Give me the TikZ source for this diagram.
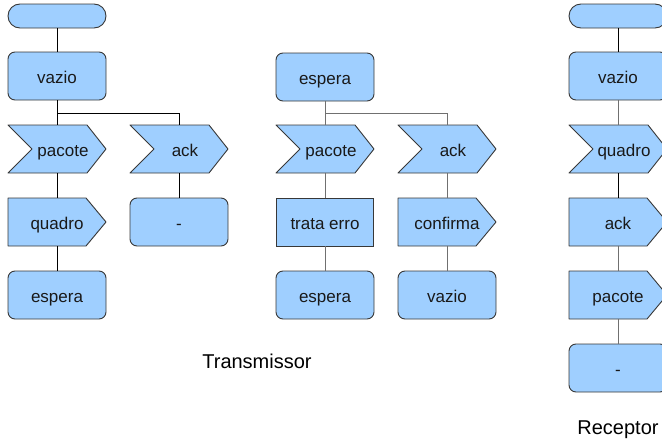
\documentclass[tikz,border=0pt]{standalone}
\usepackage{fontspec}
\setmainfont{Liberation Sans}
\usetikzlibrary{positioning}
\definecolor{boxc}{HTML}{9FCFFF}
\definecolor{edgec}{HTML}{383838}
\definecolor{flowc}{HTML}{707070}
\tikzset{
  base/.style={draw=edgec, fill=boxc, line width=0.9pt, inner sep=0pt,
    font=\fontsize{17}{19}\selectfont, text=black!90, text height=14pt, text depth=0pt},
  startbox/.style={base, rounded corners=12pt, minimum width=98pt, minimum height=24pt},
  state/.style={base, rounded corners=7pt, minimum width=98pt, minimum height=48pt},
  task/.style={base, minimum width=97pt, minimum height=48pt},
  shp/.style={draw=edgec, fill=boxc, line width=0.9pt, line join=round},
  lbl/.style={inner sep=0pt, minimum width=98pt, minimum height=48pt,
    font=\fontsize{17}{19}\selectfont, text=black!90, text height=14pt, text depth=0pt},
  title/.style={font=\fontsize{20}{24}\selectfont},
  link/.style={black, line width=1pt},
  flow/.style={flowc, line width=1pt},
}
% input symbol: notch on the left, point on the right
\newcommand{\recvbox}[3]{%
  \begin{scope}[shift={#2}]
    \draw[shp] (-49,-24) -- (30,-24) -- (49,0) -- (30,24) -- (-49,24) -- (-25,0) -- cycle;
  \end{scope}
  \node[lbl] (#1) at #2 {\hspace*{12pt}#3};}
% output symbol: straight left side, point on the right
\newcommand{\sendbox}[3]{%
  \begin{scope}[shift={#2}]
    \draw[shp] (-49,-24) -- (29,-24) -- (49,0) -- (29,24) -- (-49,24) -- cycle;
  \end{scope}
  \node[lbl] (#1) at #2 {#3};}

\begin{document}
\begin{tikzpicture}[x=1pt, y=-1pt]
  \useasboundingbox (0,0) rectangle (662,447);
  % transmissor, ramo vazio
  \node[startbox] (tStart) at (57,16) {};
  \node[state] (tVazio) at (57,76) {vazio};
  \recvbox{tPac}{(57,149)}{pacote}
  \sendbox{tQuadro}{(57,222)}{quadro}
  \node[state] (tEsp) at (57,295) {espera};
  \recvbox{tAck}{(179,149)}{ack}
  \node[state] (tNada) at (179,222) {-};
  \coordinate (tBr) at (57,113);
  \draw[link] (tStart) -- (tVazio);
  \draw[link] (tVazio) -- (tPac);
  \draw[link] (tBr) -| (tAck);
  \draw[link] (tPac) -- (tQuadro);
  \draw[link] (tQuadro) -- (tEsp);
  \draw[link] (tAck) -- (tNada);
  % transmissor, ramo espera
  \node[state] (eEsp) at (325,77) {espera};
  \recvbox{ePac}{(325,149)}{pacote}
  \node[task] (eErro) at (325,222) {trata erro};
  \node[state] (eEsp2) at (325,295) {espera};
  \recvbox{eAck}{(447,149)}{ack}
  \sendbox{eConf}{(447,222)}{confirma}
  \node[state] (eVazio) at (447,295) {vazio};
  \coordinate (eBr) at (325,113);
  \draw[flow] (eEsp) -- (ePac);
  \draw[flow] (eBr) -| (eAck);
  \draw[flow] (ePac) -- (eErro);
  \draw[flow] (eErro) -- (eEsp2);
  \draw[flow] (eAck) -- (eConf);
  \draw[flow] (eConf) -- (eVazio);
  \node[title] (tLabel) at (257,361) {Transmissor};
  % receptor
  \node[startbox] (rStart) at (618,16) {};
  \node[state] (rVazio) at (618,76) {vazio};
  \recvbox{rQuadro}{(618,149)}{quadro}
  \sendbox{rAck}{(618,222)}{ack}
  \sendbox{rPac}{(618,295)}{pacote}
  \node[state] (rNada) at (618,368) {-};
  \draw[link] (rStart) -- (rVazio);
  \draw[flow] (rVazio) -- (rQuadro);
  \draw[link] (rQuadro) -- (rAck);
  \draw[flow] (rAck) -- (rPac);
  \draw[flow] (rPac) -- (rNada);
  \node[title] (rLabel) at (618,430) {Receptor};
\end{tikzpicture}
\end{document}
